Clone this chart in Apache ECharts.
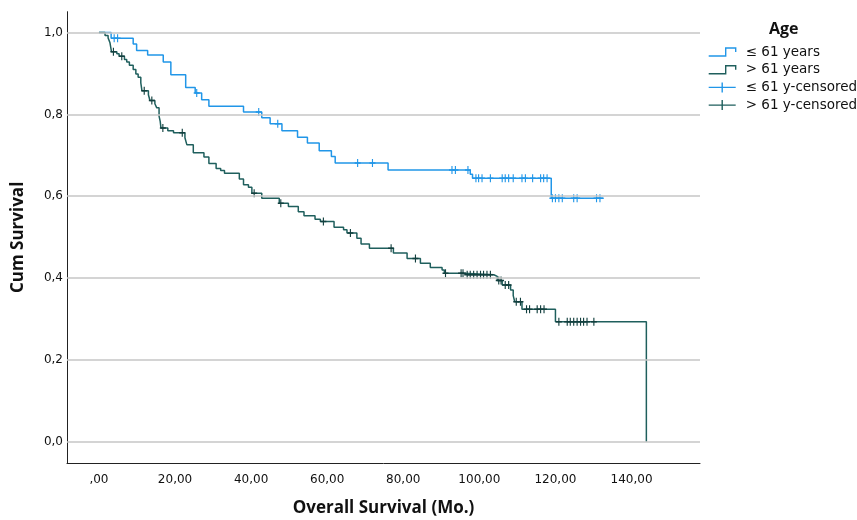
<!DOCTYPE html>
<html>
<head>
<meta charset="utf-8">
<script src="https://cdn.jsdelivr.net/npm/echarts@6/dist/echarts.min.js"></script>
<style>
html,body{margin:0;padding:0;background:#fff;}
#chart{width:857px;height:520px;}
</style>
</head>
<body>
<div id="chart"></div>
<script>
// ----- Data -----
const youngName = '≤ 61 years';
const oldName = '> 61 years';
const youngCensName = '≤ 61 y-censored';
const oldCensName = '> 61 y-censored';

// Kaplan–Meier steps: time of each event and survival after it
const youngTimes = [0, 3.2, 9.0, 9.9, 12.8, 16.9, 18.9, 22.8, 25.3, 27.0, 28.9, 38.0, 42.8, 45.0, 48.1, 52.2, 54.8, 57.9, 61.1, 62.1, 76.0, 97.6, 98.2, 118.9];
const youngSurv  = [1, 0.986, 0.972, 0.956, 0.945, 0.928, 0.897, 0.866, 0.852, 0.836, 0.820, 0.806, 0.792, 0.777, 0.760, 0.744, 0.730, 0.711, 0.697, 0.681, 0.664, 0.654, 0.644, 0.595];
const youngLastTime = 132.7;
const youngCensor = [4.0, 4.9, 25.7, 42.0, 47.0, 68.0, 71.9, 92.8, 93.7, 97.0, 99.1, 99.8, 100.7, 102.9, 106.0, 106.8, 107.7, 108.9, 111.2, 112.1, 114.0, 116.1, 116.9, 117.8, 119.2, 120.0, 120.9, 121.8, 124.8, 125.7, 130.8, 131.7];

const oldTimes = [0, 1.6, 2.4, 2.9, 3.3, 4.7, 5.3, 6.7, 7.3, 8.0, 9.0, 9.7, 10.3, 11.0, 11.3, 13.0, 13.4, 14.7, 15.2, 15.8, 16.1, 16.3, 18.1, 19.6, 22.6, 23.1, 24.8, 27.6, 28.9, 30.8, 32.0, 33.0, 36.9, 38.0, 39.3, 40.2, 42.8, 47.4, 49.8, 52.4, 53.9, 56.8, 58.2, 61.8, 64.3, 65.2, 67.8, 68.9, 71.1, 77.4, 81.0, 84.5, 87.1, 90.2, 90.8, 95.9, 103.8, 104.7, 106.0, 108.2, 108.9, 109.3, 111.2, 120.0, 143.9];
const oldSurv  = [1, 0.993, 0.987, 0.975, 0.953, 0.948, 0.942, 0.934, 0.928, 0.920, 0.910, 0.899, 0.891, 0.877, 0.858, 0.848, 0.834, 0.826, 0.816, 0.796, 0.783, 0.767, 0.760, 0.755, 0.743, 0.726, 0.706, 0.696, 0.680, 0.668, 0.663, 0.656, 0.642, 0.628, 0.622, 0.607, 0.595, 0.583, 0.575, 0.562, 0.552, 0.544, 0.538, 0.524, 0.518, 0.510, 0.497, 0.483, 0.473, 0.461, 0.448, 0.436, 0.426, 0.420, 0.412, 0.408, 0.404, 0.394, 0.383, 0.371, 0.357, 0.342, 0.324, 0.293, 0];
const oldLastTime = 143.9;
const oldCensor = [3.8, 6.0, 11.9, 13.9, 16.8, 21.9, 40.8, 47.8, 59.0, 66.1, 76.8, 83.2, 91.1, 95.2, 95.7, 96.8, 97.6, 98.5, 99.4, 100.3, 101.1, 102.0, 102.9, 105.1, 105.7, 106.8, 107.7, 109.7, 110.8, 112.4, 113.2, 115.2, 116.1, 117.0, 120.9, 123.1, 123.9, 124.8, 125.7, 126.6, 127.4, 128.3, 130.1];

const xTicks = [0, 20, 40, 60, 80, 100, 120, 140];
const yTicks = [0, 0.2, 0.4, 0.6, 0.8, 1.0];

// ----- Build series data -----
function stepData(times, surv, lastTime) {
  const d = times.map((t, i) => [t, surv[i]]);
  if (lastTime > times[times.length - 1]) d.push([lastTime, surv[surv.length - 1]]);
  return d;
}
function survAt(times, surv, t) {
  let s = surv[0];
  for (let i = 0; i < times.length; i++) { if (times[i] <= t) s = surv[i]; }
  return s;
}
function censorData(times, surv, cens) {
  return cens.map(t => [t, survAt(times, surv, t)]);
}

const cYoung = '#2196e8';
const cOld = '#1f5f5d';
const cOldMark = '#123f3e';

const stepIcon = 'path://M0,9 L17,9 L17,1 L27,1 L27,5';
const crossIcon = 'path://M0,5 L27,5 M13.5,0 L13.5,10';
const censorSymbol = 'path://M3,0 L3,8 M0,4 L6,4';

const chart = echarts.init(document.getElementById('chart'), null, {renderer: 'canvas'});
const option = {
  backgroundColor: '#ffffff',
  animation: false,
  title: {
    text: 'Age',
    left: 764, top: 16,
    textStyle: {fontFamily: 'Open Sans', fontWeight: 'bold', fontSize: 16, color: '#111'}
  },
  legend: {
    orient: 'vertical',
    left: 703, top: 40,
    itemWidth: 27, itemHeight: 10, itemGap: 3.7,
    textStyle: {fontFamily: 'DejaVu Sans', fontSize: 13.5, color: '#111', padding: [0, 0, 0, 5]},
    data: [
      {name: youngName, icon: stepIcon, itemStyle: {color: 'rgba(0,0,0,0)', borderColor: cYoung, borderWidth: 1.4}},
      {name: oldName, icon: stepIcon, itemStyle: {color: 'rgba(0,0,0,0)', borderColor: cOld, borderWidth: 1.4}},
      {name: youngCensName, icon: crossIcon, itemStyle: {color: 'rgba(0,0,0,0)', borderColor: cYoung, borderWidth: 1.4}},
      {name: oldCensName, icon: crossIcon, itemStyle: {color: 'rgba(0,0,0,0)', borderColor: cOld, borderWidth: 1.4}}
    ]
  },
  grid: {left: 67, right: 157, top: 11.7, bottom: 57, containLabel: false, outerBoundsMode: 'none'},
  xAxis: {
    type: 'value', min: -8.4, max: 158,
    name: 'Overall Survival (Mo.)', nameLocation: 'middle', nameGap: 37,
    nameTextStyle: {fontFamily: 'Open Sans', fontWeight: 'bold', fontSize: 17, color: '#111'},
    axisLine: {show: true, onZero: false, lineStyle: {color: '#222', width: 1}},
    axisTick: {show: false},
    splitLine: {show: false},
    axisLabel: {
      customValues: xTicks, margin: 11,
      fontFamily: 'DejaVu Sans', fontSize: 12, color: '#111',
      formatter: v => v === 0 ? ',00' : v.toFixed(2).replace('.', ',')
    }
  },
  yAxis: {
    type: 'value', min: -0.052, max: 1.051,
    name: 'Cum Survival', nameLocation: 'middle', nameGap: 40, nameRotate: 90,
    nameTextStyle: {fontFamily: 'Open Sans', fontWeight: 'bold', fontSize: 17, color: '#111'},
    axisLine: {show: true, onZero: false, lineStyle: {color: '#222', width: 1}},
    axisTick: {show: false},
    splitLine: {show: false},
    axisLabel: {
      customValues: yTicks, margin: 4,
      fontFamily: 'DejaVu Sans', fontSize: 12, color: '#111',
      formatter: v => v.toFixed(1).replace('.', ',')
    }
  },
  series: [
    {
      name: 'grid', type: 'line', data: [], z: 1, silent: true,
      markLine: {
        silent: true, symbol: ['none', 'none'], label: {show: false},
        lineStyle: {color: '#c6c6c6', width: 1.5, type: 'solid'},
        emphasis: {disabled: true},
        data: yTicks.map(v => ({yAxis: v}))
      }
    },
    {
      name: youngName, type: 'line', step: 'end', z: 3,
      data: stepData(youngTimes, youngSurv, youngLastTime),
      showSymbol: false, symbol: 'none',
      lineStyle: {color: cYoung, width: 1.5},
      itemStyle: {color: cYoung}
    },
    {
      name: oldName, type: 'line', step: 'end', z: 3,
      data: stepData(oldTimes, oldSurv, oldLastTime),
      showSymbol: false, symbol: 'none',
      lineStyle: {color: cOld, width: 1.5},
      itemStyle: {color: cOld}
    },
    {
      name: youngCensName, type: 'scatter', z: 4,
      data: censorData(youngTimes, youngSurv, youngCensor),
      symbol: censorSymbol, symbolSize: [6, 8],
      itemStyle: {color: 'rgba(0,0,0,0)', borderColor: cYoung, borderWidth: 1.3, opacity: 1}
    },
    {
      name: oldCensName, type: 'scatter', z: 4,
      data: censorData(oldTimes, oldSurv, oldCensor),
      symbol: censorSymbol, symbolSize: [6, 8],
      itemStyle: {color: 'rgba(0,0,0,0)', borderColor: cOldMark, borderWidth: 1.3, opacity: 1}
    }
  ]
};
chart.setOption(option);
</script>
</body>
</html>
